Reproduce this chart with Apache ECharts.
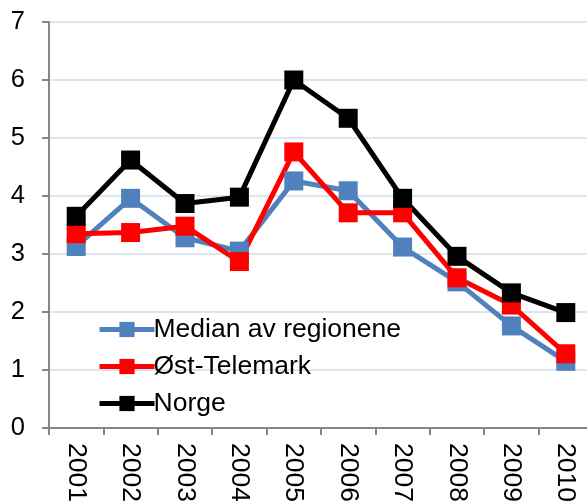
<!DOCTYPE html>
<html>
<head>
<meta charset="utf-8">
<script src="https://cdn.jsdelivr.net/npm/echarts@6/dist/echarts.min.js"></script>
<style>
html,body{margin:0;padding:0;background:#fff;}
#chart{width:587px;height:501px;}
</style>
</head>
<body>
<div id="chart"></div>
<script>
var years = ['2001','2002','2003','2004','2005','2006','2007','2008','2009','2010'];
var median = [3.13, 3.96, 3.28, 3.05, 4.26, 4.09, 3.12, 2.52, 1.76, 1.15];
var ostTelemark = [3.35, 3.37, 3.48, 2.87, 4.76, 3.71, 3.71, 2.59, 2.12, 1.28];
var norge = [3.65, 4.62, 3.87, 3.98, 6.0, 5.34, 3.96, 2.96, 2.33, 1.99];
var seriesNames = ['Median av regionene', 'Øst-Telemark', 'Norge'];
var seriesColors = ['#4f81bd', '#ff0000', '#000000'];

var chart = echarts.init(document.getElementById('chart'), null, {renderer: 'canvas'});
var font = '"Liberation Sans", Arial, sans-serif';
function mk(name, data, color) {
  return {
    name: name, type: 'line', data: data,
    symbol: 'rect', symbolSize: 19,
    lineStyle: {width: 5, color: color},
    itemStyle: {color: color},
    animation: false
  };
}
chart.setOption({
  animation: false,
  textStyle: {fontFamily: font},
  grid: {left: 49, top: 22, width: 544, height: 406, containLabel: false, outerBoundsMode: 'none'},
  legend: {
    orient: 'vertical', left: 92, top: 311,
    itemWidth: 55, itemHeight: 19, itemGap: 10,
    data: seriesNames,
    lineStyle: {width: 5},
    textStyle: {fontSize: 26.5, color: '#000', fontFamily: font, padding: [0,0,0,-6]}
  },
  xAxis: {
    type: 'category', data: years, boundaryGap: true,
    axisLine: {lineStyle: {color: '#868686', width: 2}},
    axisTick: {show: true, alignWithLabel: false, length: 7, lineStyle: {color: '#868686', width: 2}},
    axisLabel: {rotate: -90, margin: 15, fontSize: 26.5, color: '#000', fontFamily: font, interval: 0}
  },
  yAxis: {
    type: 'value', min: 0, max: 7, interval: 1,
    axisLine: {show: true, lineStyle: {color: '#868686', width: 2}},
    axisTick: {show: true, length: 7, lineStyle: {color: '#868686', width: 2}},
    axisLabel: {fontSize: 25.5, color: '#000', fontFamily: font, margin: 24},
    splitLine: {lineStyle: {color: '#dce6f2', width: 2}}
  },
  series: [
    mk(seriesNames[0], median, seriesColors[0]),
    mk(seriesNames[1], ostTelemark, seriesColors[1]),
    mk(seriesNames[2], norge, seriesColors[2])
  ]
});
</script>
</body>
</html>
